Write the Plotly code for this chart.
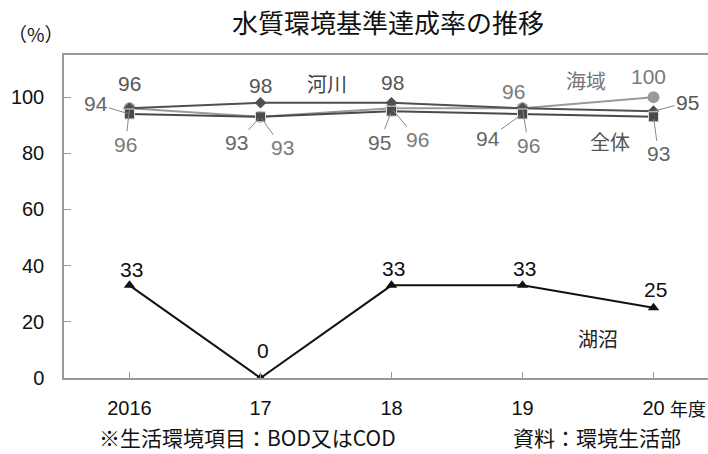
import plotly.graph_objects as go

years = ["2016", "17", "18", "19", "20"]
xpos = [0, 1, 2, 3, 4]
river = [96, 98, 98, 96, 95]     # 河川
sea = [96, 93, 96, 96, 100]      # 海域
overall = [94, 93, 95, 94, 93]   # 全体
lake = [33, 0, 33, 33, 25]       # 湖沼

NUM = "Liberation Sans, Arial, sans-serif"
JP = "Noto Sans CJK JP, sans-serif"

fig = go.Figure()

fig.add_trace(go.Scatter(x=xpos, y=sea, mode="lines+markers",
                         line=dict(color="#9a9a9a", width=2),
                         marker=dict(symbol="circle", size=12, color="#9a9a9a")))
fig.add_trace(go.Scatter(x=xpos, y=river, mode="lines+markers",
                         line=dict(color="#505050", width=2),
                         marker=dict(symbol="diamond", size=9, color="#505050")))
fig.add_trace(go.Scatter(x=xpos, y=overall, mode="lines+markers",
                         line=dict(color="#4a4a4a", width=2),
                         marker=dict(symbol="square", size=10, color="#4a4a4a",
                                     line=dict(color="#dddddd", width=1))))
fig.add_trace(go.Scatter(x=xpos, y=lake, mode="lines+markers",
                         line=dict(color="#111111", width=2),
                         marker=dict(symbol="triangle-up", size=10, color="#111111")))

annotations = []

def lab(series, i, dx, dy, color, leader=False):
    v = series[i]
    if leader:
        annotations.append(dict(x=xpos[i], y=v, xref="x", yref="y", text=str(v),
                                showarrow=True, arrowhead=0, arrowwidth=1,
                                arrowcolor="#888888", ax=dx, ay=dy, standoff=2,
                                font=dict(family=NUM, size=21, color=color)))
    else:
        annotations.append(dict(x=xpos[i], y=v, xref="x", yref="y", text=str(v),
                                showarrow=False, xshift=dx, yshift=-dy,
                                font=dict(family=NUM, size=21, color=color)))

C_R = "#555555"
C_S = "#7a7a7a"
C_O = "#666666"
# 2016
lab(river, 0, 0, -25, C_R)
lab(overall, 0, -34, -10, C_O, True)
lab(sea, 0, -4, 36, C_S, True)
# 17
lab(river, 1, 0, -17, C_R)
lab(overall, 1, -24, 26, C_O, True)
lab(sea, 1, 22, 31, C_S, True)
# 18
lab(river, 2, 1, -20, C_R)
lab(overall, 2, -12, 31, C_O, True)
lab(sea, 2, 26, 31, C_S, True)
# 19
lab(river, 3, -9, -17, C_S)
lab(overall, 3, -35, 25, C_O, True)
lab(sea, 3, 6, 37, C_S, True)
# 20
lab(sea, 4, -5, -21, C_S)
lab(river, 4, 34, -9, C_R, True)
lab(overall, 4, 5, 37, C_O, True)
# lake
for i, dy in zip(range(5), [-16, -28, -17, -17, -18]):
    lab(lake, i, 2, dy, "#111111")

W, H = 708, 454
L, R, T, B = 64, 0, 55, 76
pw, ph = W - L - R, H - T - B

def pap(px, py):
    return (px - L) / pw, (H - B - py) / ph

def txt(t, px, py, size, color, xanchor="center"):
    x, y = pap(px, py)
    annotations.append(dict(x=x, y=y, xref="paper", yref="paper", text=t, showarrow=False,
                            xanchor=xanchor, yanchor="middle",
                            font=dict(family=JP, size=size, color=color)))

# series names
txt("河川", 327, 83, 20, "#444444")
txt("海域", 586, 80, 20, "#777777")
txt("全体", 610, 141, 20, "#555555")
txt("湖沼", 598, 338, 20, "#222222")

txt("水質環境基準達成率の推移", 388, 22, 26, "#111111")
txt("（%）", 36, 34, 19, "#111111")
txt("年度", 668, 408, 18, "#111111", xanchor="left")
txt("※生活環境項目：BOD又はCOD", 247, 437, 21, "#111111")
txt("資料：環境生活部", 597, 437, 21, "#111111")

fig.update_layout(
    width=W, height=H,
    margin=dict(l=L, r=R, t=T, b=B),
    paper_bgcolor="white", plot_bgcolor="white",
    showlegend=False,
    annotations=annotations,
    xaxis=dict(range=[-0.5, 4.416], tickvals=xpos, ticktext=years,
               showgrid=False, zeroline=False, showline=True, linecolor="#999999",
               linewidth=1.5, mirror=True, ticks="inside", ticklen=6, tickcolor="#999999",
               ticklabelstandoff=11,
               tickfont=dict(family=NUM, size=20, color="#111111")),
    yaxis=dict(range=[0, 115], tickvals=[0, 20, 40, 60, 80, 100],
               showgrid=False, zeroline=False, showline=True, linecolor="#999999",
               linewidth=1.5, ticks="inside", ticklen=7, tickcolor="#999999",
               ticklabelstandoff=14,
               tickfont=dict(family=NUM, size=20, color="#111111")),
)

fig.write_html("out.html")
